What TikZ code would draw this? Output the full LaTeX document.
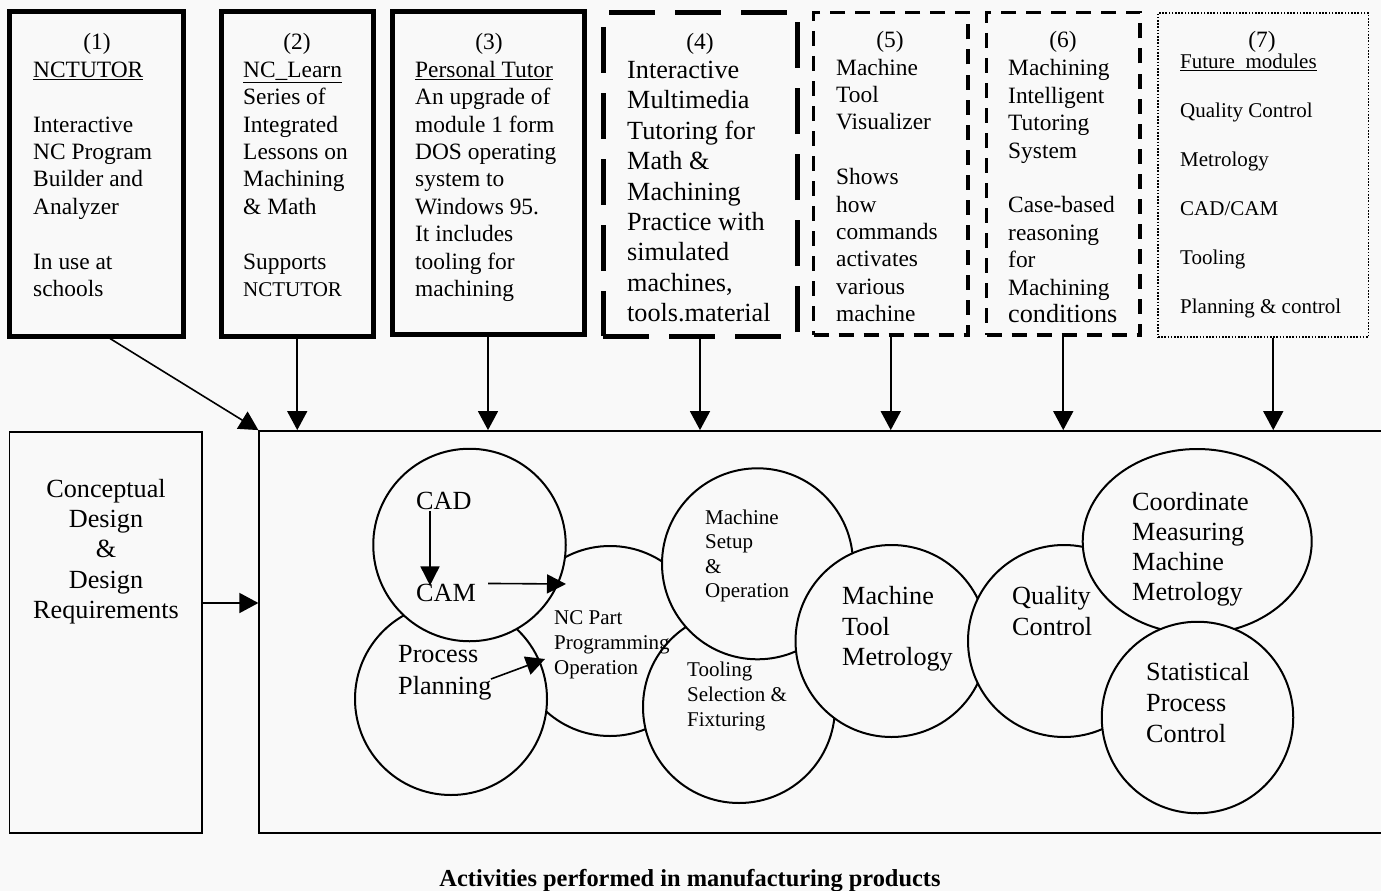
\documentclass[tikz,border=0pt]{standalone}
\usepackage{fontspec}
\setmainfont{Liberation Serif}
\usetikzlibrary{arrows.meta,shapes.geometric}
\definecolor{bg}{RGB}{249,249,249}
\newcommand{\fA}{\fontsize{23.4}{27.4}\selectfont}
\newcommand{\fB}{\fontsize{26.2}{30.4}\selectfont}
\newcommand{\fC}{\fontsize{21}{24.7}\selectfont}
\begin{document}
\begin{tikzpicture}[x=1pt,y=-1pt,
  boxsolid/.style={draw,rectangle,line width=5pt,inner sep=0pt},
  boxlong/.style={draw,rectangle,line width=5pt,inner sep=0pt,dash pattern=on 46pt off 20pt},
  boxshort/.style={draw,rectangle,line width=3.5pt,inner sep=0pt,dash pattern=on 15pt off 10pt},
  boxdot/.style={draw,rectangle,line width=1.6pt,inner sep=0pt,dash pattern=on 1.6pt off 1.6pt},
  frame/.style={draw,rectangle,line width=1.8pt,inner sep=0pt},
  ring/.style={draw,circle,line width=2pt,fill=bg,inner sep=0pt},
  txt/.style={inner sep=0pt,anchor=base west,align=left},
  hdr/.style={inner sep=0pt,anchor=base,font=\fA},
  arr/.style={line width=1.6pt,-{Triangle[length=19pt,width=20pt]}},
  arrin/.style={line width=1.6pt,-{Triangle[length=19pt,width=19pt]}}]
\useasboundingbox (0,0) rectangle (1381,891);
\fill[bg] (0,0) rectangle (1381,891);

% top boxes
\node[boxsolid,minimum width=174pt,minimum height=324pt] (b1) at (96,174) {};
\node[boxsolid,minimum width=152.5pt,minimum height=324pt] (b2) at (297.25,174) {};
\node[boxsolid,minimum width=192pt,minimum height=322.5pt] (b3) at (488,173.25) {};
\node[boxlong,minimum width=194pt,minimum height=323.5pt] (b4) at (700,174.25) {};
\node[boxshort,minimum width=154.5pt,minimum height=322.5pt] (b5) at (890.75,173.75) {};
\node[boxshort,minimum width=153.5pt,minimum height=322.5pt] (b6) at (1063.25,173.75) {};
\node[boxdot,minimum width=210.5pt,minimum height=324pt] (b7) at (1263.25,175) {};

% headers
\node[hdr] (h1) at (97,50) {(1)};
\node[hdr] (h2) at (297,50) {(2)};
\node[hdr] (h3) at (489,50) {(3)};
\node[hdr] (h4) at (700,50) {(4)};
\node[hdr] (h5) at (890,48) {(5)};
\node[hdr] (h6) at (1063,48) {(6)};
\node[hdr] (h7) at (1262,48) {(7)};

% box texts (anchored at the baseline of the last line)
\node[txt,font=\fA] (t1) at (33,296.5) {\underline{NCTUTOR}\\[27.4pt]Interactive\\NC Program\\Builder and\\Analyzer\\[27.4pt]In use at\\schools};
\node[txt,font=\fA] (t2) at (243,296.5) {\underline{NC\_Learn}\\Series of\\Integrated\\Lessons on\\Machining\\\& Math\\[27.4pt]Supports\\{\fontsize{21}{24}\selectfont NCTUTOR}};
\node[txt,font=\fA] (t3) at (415,296.5) {\underline{Personal Tutor}\\An upgrade of\\module 1 form\\DOS operating\\system to\\Windows 95.\\It includes\\tooling for\\machining};
\node[txt,font=\fB] (t4) at (627,321.6) {Interactive\\Multimedia\\Tutoring for\\Math \&\\Machining\\Practice with\\simulated\\machines,\\tools.material};
\node[txt,font=\fA] (t5) at (836,321.6) {Machine\\Tool\\Visualizer\\[27.4pt]Shows\\how\\commands\\activates\\various\\machine};
\node[txt,font=\fA] (t6) at (1008,322.5) {Machining\\Intelligent\\Tutoring\\System\\[27.4pt]Case-based\\reasoning\\for\\Machining\\{\fB conditions}};
\node[txt,font=\fontsize{21}{49}\selectfont] (t7) at (1180,313.5) {\underline{Future\ \ modules}\\Quality Control\\Metrology\\CAD/CAM\\Tooling\\Planning \& control};

% lower frames
\node[frame,minimum width=192.5pt,minimum height=401pt] (L) at (105.75,632.5) {};
\node[frame,minimum width=1141pt,minimum height=402pt] (main) at (829.8,632) {};
\node[inner sep=0pt,anchor=base,align=center,font=\fontsize{26.2}{30.3}\selectfont] (Lt) at (106,618.5) {Conceptual\\Design\\\&\\Design\\Requirements};

% arrows from boxes
\draw[arr] ([xshift=14pt]b1.south) -- (main.north west);
\draw[arr] (b2.south) -- (b2.south |- main.north);
\draw[arr] (b3.south) -- (b3.south |- main.north);
\draw[arr] (b4.south) -- (b4.south |- main.north);
\draw[arr] (b5.south) -- (b5.south |- main.north);
\draw[arr] (b6.south) -- (b6.south |- main.north);
\draw[arr] ([xshift=10pt]b7.south) -- ([xshift=10pt]b7.south |- main.north);
\draw[arr] ([yshift=29.5pt]L.east) -- ([yshift=29.5pt]L.east -| main.west);

% circles (bottom to top)
\node[ring,minimum size=190pt] (nc) at (610,641) {};
\node[ring,minimum size=192pt] (pp) at (451,699) {};
\node[ring,minimum size=192.5pt] (cad) at (469.5,545) {};
\node[ring,minimum size=192pt] (tool) at (739,707) {};
\node[ring,minimum size=191pt] (setup) at (757.5,563.8) {};
\node[ring,minimum size=192pt] (mtm) at (891.5,641) {};
\node[ring,minimum size=192pt] (qc) at (1064,641) {};
\node[draw,ellipse,line width=2pt,fill=bg,inner sep=0pt,minimum width=229pt,minimum height=185pt] (cmm) at (1197.2,541.5) {};
\node[ring,minimum size=191.5pt] (spc) at (1197.5,717.5) {};

% circle texts (anchored at the baseline of the last line)
\node[txt,font=\fB] (cadt) at (416,509.3) {CAD};
\node[txt,font=\fB] (camt) at (416,601) {CAM};
\node[txt,font=\fontsize{26.2}{31.3}\selectfont] (ppt) at (398,694) {Process\\Planning};
\node[txt,font=\fC] (nct) at (554,674) {NC Part\\Programming\\Operation};
\node[txt,font=\fontsize{21}{24.5}\selectfont] (mst) at (705,597.7) {Machine\\Setup\\\&\\Operation};
\node[txt,font=\fC] (tst) at (687,726) {Tooling\\Selection \&\\Fixturing};
\node[txt,font=\fontsize{26.2}{30.7}\selectfont] (mtmt) at (842,665.7) {Machine\\Tool\\Metrology};
\node[txt,font=\fontsize{26.2}{30.7}\selectfont] (qct) at (1012,635) {Quality\\Control};
\node[txt,font=\fontsize{26.2}{30}\selectfont] (cmmt) at (1132,600) {Coordinate\\Measuring\\Machine\\Metrology};
\node[txt,font=\fontsize{26.2}{31}\selectfont] (spct) at (1146,742.7) {Statistical\\Process\\Control};

% inner arrows
\coordinate (camtip) at (566,584);
\coordinate (ppfrom) at (491,679);
\coordinate (pptip) at (545,659);
\draw[arrin] ([xshift=14pt,yshift=-2pt]cadt.base west) -- ([xshift=14pt,yshift=-2pt]cadt.base west |- camt.north);
\draw[arrin] ([xshift=12pt]camt.north east) -- (camtip);
\draw[arrin] (ppfrom) -- (pptip);

% caption
\node[inner sep=0pt,anchor=base,font=\fontsize{24.4}{28}\selectfont\bfseries] (cap) at (690,886) {Activities performed in manufacturing products};
\end{tikzpicture}
\end{document}
